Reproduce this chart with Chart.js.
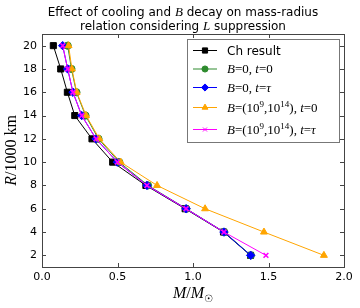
<!DOCTYPE html>
<html><head><meta charset="utf-8">
<script src="https://cdn.jsdelivr.net/npm/chart.js@4/dist/chart.umd.min.js"></script>
<style>html,body{margin:0;padding:0;background:#fff;}#wrap{width:360px;height:308px;}</style>
</head><body><div id="wrap"><canvas id="c" width="360" height="308"></canvas></div>
<script>
// ---- data ----
const radii = [20, 18, 16, 14, 12, 10, 8, 6, 4, 2];
const massCh = [0.075, 0.124, 0.168, 0.217, 0.331, 0.468, 0.688, 0.948, 1.202, 1.381];
const massB0t0 = [0.170, 0.195, 0.228, 0.288, 0.374, 0.512, 0.702, 0.956, 1.207, 1.383];
const massB0tau = [0.137, 0.170, 0.205, 0.263, 0.358, 0.499, 0.695, 0.954, 1.205, 1.382];
const massBdt0 = [0.176, 0.198, 0.230, 0.292, 0.380, 0.521, 0.762, 1.08, 1.47, 1.867];
const massBdtau = [0.137, 0.170, 0.205, 0.263, 0.358, 0.499, 0.695, 0.954, 1.205, 1.483];
const seriesLabels = ["Ch result", "B=0, t=0", "B=0, t=τ", "B=(10^{9},10^{14}), t=0", "B=(10^{9},10^{14}), t=τ"];
const xTicks = [0.0, 0.5, 1.0, 1.5, 2.0];
const yTicks = [2, 4, 6, 8, 10, 12, 14, 16, 18, 20];
const titleLines = ["Effect of cooling and B decay on mass-radius", "relation considering L suppression"];

// Chart.js: lower "order" is drawn on top
const styles = [
  {color: '#000000', pointStyle: 'rect', radius: 4.3, order: 5, bw: 1},
  {color: '#2e8b2e', pointStyle: 'circle', radius: 3.6, order: 4, bw: 1},
  {color: '#0000ff', pointStyle: 'rectRot', radius: 4.2, order: 3, bw: 1},
  {color: '#ffa500', pointStyle: 'triangle', radius: 4.0, order: 2, bw: 1},
  {color: '#ff00ff', pointStyle: 'crossRot', radius: 3.4, order: 1, bw: 1.6}
];
const masses = [massCh, massB0t0, massB0tau, massBdt0, massBdtau];

const datasets = masses.map((m, i) => ({
  label: seriesLabels[i],
  data: m.map((v, j) => ({x: v, y: radii[j]})),
  showLine: true,
  borderColor: styles[i].color,
  backgroundColor: styles[i].color,
  borderWidth: 1,
  pointStyle: styles[i].pointStyle,
  pointRadius: styles[i].radius,
  pointBorderWidth: styles[i].bw,
  pointBorderColor: styles[i].color,
  pointBackgroundColor: styles[i].color,
  order: styles[i].order
}));

const SERIF = '"Liberation Serif", "DejaVu Serif", serif';
const SANS = '"DejaVu Sans", sans-serif';

function mathSegs(str, size) {
  const segs = [];
  let i = 0;
  while (i < str.length) {
    if (str[i] === '^' && str[i + 1] === '{') {
      const end = str.indexOf('}', i);
      segs.push({t: str.slice(i + 2, end), font: `${Math.round(size * 0.7)}px ${SERIF}`, dy: -size * 0.38});
      i = end + 1;
      continue;
    }
    const ch = str[i];
    if (/[A-Za-zτ]/.test(ch)) segs.push({t: ch, font: `italic ${size}px ${SERIF}`, dy: 0});
    else segs.push({t: ch, font: `${size}px ${SERIF}`, dy: 0});
    i++;
  }
  return segs;
}
function segWidth(ctx, segs) {
  let w = 0;
  segs.forEach(s => { ctx.font = s.font; w += ctx.measureText(s.t).width; });
  return w;
}
function drawSegs(ctx, segs, x, y, align) {
  let w = segWidth(ctx, segs);
  let cx = align === 'center' ? x - w / 2 : x;
  ctx.textBaseline = 'alphabetic';
  ctx.textAlign = 'left';
  segs.forEach(s => {
    ctx.font = s.font;
    ctx.fillText(s.t, cx, y + (s.dy || 0));
    cx += ctx.measureText(s.t).width;
  });
}

const decorPlugin = {
  id: 'decor',
  afterDraw(chart) {
    const ctx = chart.ctx;
    const a = chart.chartArea;
    const xs = chart.scales.x, ys = chart.scales.y;
    ctx.save();
    ctx.strokeStyle = '#444';
    ctx.lineWidth = 1;
    ctx.strokeRect(Math.round(a.left) + 0.5, Math.round(a.top) + 0.5, Math.round(a.right - a.left), Math.round(a.bottom - a.top));
    const tl = 4;
    ctx.beginPath();
    xTicks.forEach(v => {
      const px = Math.round(xs.getPixelForValue(v)) + 0.5;
      ctx.moveTo(px, a.bottom); ctx.lineTo(px, a.bottom - tl);
      ctx.moveTo(px, a.top); ctx.lineTo(px, a.top + tl);
    });
    yTicks.forEach(v => {
      const py = Math.round(ys.getPixelForValue(v)) + 0.5;
      ctx.moveTo(a.left, py); ctx.lineTo(a.left + tl, py);
      ctx.moveTo(a.right, py); ctx.lineTo(a.right - tl, py);
    });
    ctx.stroke();

    ctx.fillStyle = '#000';
    const tsz = 12;
    const t1 = titleLines[0].split(' B ');
    drawSegs(ctx, [
      {t: t1[0] + ' ', font: `${tsz}px ${SANS}`},
      {t: 'B', font: `italic ${tsz + 1}px ${SERIF}`},
      {t: ' ' + t1[1], font: `${tsz}px ${SANS}`}
    ], 183, 16, 'center');
    const t2 = titleLines[1].split(' L ');
    drawSegs(ctx, [
      {t: t2[0] + ' ', font: `${tsz}px ${SANS}`},
      {t: 'L', font: `italic ${tsz + 1}px ${SERIF}`},
      {t: ' ' + t2[1], font: `${tsz}px ${SANS}`}
    ], 183, 30, 'center');

    const cxp = (a.left + a.right) / 2;
    drawSegs(ctx, [
      {t: 'M', font: `italic 16px ${SERIF}`},
      {t: '/', font: `16px ${SERIF}`},
      {t: 'M', font: `italic 16px ${SERIF}`},
      {t: '☉', font: `10px ${SANS}`, dy: 4}
    ], cxp, 298, 'center');
    ctx.save();
    ctx.translate(16, (a.top + a.bottom) / 2);
    ctx.rotate(-Math.PI / 2);
    drawSegs(ctx, [
      {t: 'R', font: `italic 16px ${SERIF}`},
      {t: '/1000 km', font: `16px ${SERIF}`}
    ], 0, 0, 'center');
    ctx.restore();

    const lx = 187, ly = 39, lw = 152, lh = 103;
    ctx.fillStyle = '#fff';
    ctx.fillRect(lx, ly, lw, lh);
    ctx.strokeStyle = '#777';
    ctx.lineWidth = 1;
    ctx.strokeRect(lx + 0.5, ly + 0.5, lw, lh);
    const rowY = [50, 68.5, 87, 107, 129];
    seriesLabels.forEach((lab, i) => {
      const y = rowY[i];
      const st = styles[i];
      ctx.strokeStyle = st.color;
      ctx.lineWidth = 1;
      ctx.beginPath();
      ctx.moveTo(193, y + 0.5); ctx.lineTo(217, y + 0.5);
      ctx.stroke();
      ctx.fillStyle = st.color;
      ctx.strokeStyle = st.color;
      Chart.helpers.drawPoint(ctx, {pointStyle: st.pointStyle, radius: st.radius * 0.85, rotation: 0, borderWidth: st.bw}, 205, y + 0.5);
      ctx.fillStyle = '#000';
      if (i === 0) {
        drawSegs(ctx, [{t: lab, font: `12px ${SANS}`}], 227, y + 4.5, 'left');
      } else {
        drawSegs(ctx, mathSegs(lab, 13), 227, y + 4.5, 'left');
      }
    });
    ctx.restore();
  }
};

new Chart(document.getElementById('c'), {
  type: 'scatter',
  data: {datasets},
  options: {
    responsive: false,
    devicePixelRatio: 1,
    animation: false,
    layout: {padding: {top: 34, right: 16, left: 0, bottom: 0}},
    plugins: {legend: {display: false}, title: {display: false}, tooltip: {enabled: false}},
    scales: {
      x: {
        type: 'linear', min: 0, max: 2,
        afterBuildTicks: s => { s.ticks = xTicks.map(v => ({value: v})); },
        afterFit: s => { s.height = 41; },
        grid: {display: false, drawTicks: false},
        border: {display: false},
        ticks: {callback: v => Number(v).toFixed(1), color: '#000', font: {family: 'DejaVu Sans', size: 11}, padding: 4, maxRotation: 0, autoSkip: false}
      },
      y: {
        type: 'linear', min: 1, max: 21,
        afterBuildTicks: s => { s.ticks = yTicks.map(v => ({value: v})); },
        afterFit: s => { s.width = 42; },
        grid: {display: false, drawTicks: false},
        border: {display: false},
        ticks: {callback: v => String(v), color: '#000', font: {family: 'DejaVu Sans', size: 11}, padding: 5, autoSkip: false}
      }
    }
  },
  plugins: [decorPlugin]
});
</script>
</body></html>
